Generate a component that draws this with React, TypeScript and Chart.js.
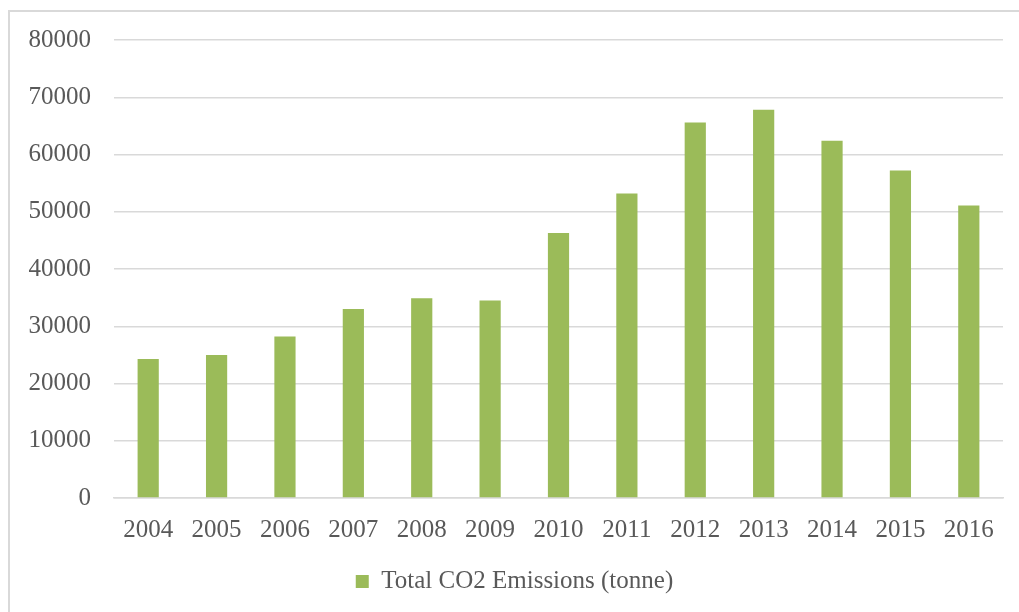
import React, { useEffect, useRef } from "react";
import { Chart, registerables } from "chart.js";

Chart.register(...registerables);

const years = ["2004", "2005", "2006", "2007", "2008", "2009", "2010", "2011", "2012", "2013", "2014", "2015", "2016"];
const emissions = [24300, 25000, 28200, 33000, 34900, 34500, 46300, 53200, 65600, 67800, 62400, 57200, 51100];
const seriesLabel = "Total CO2 Emissions (tonne)";
const yMin = 0;
const yMax = 80000;
const yStep = 10000;

export default function App() {
  const ref = useRef<HTMLCanvasElement | null>(null);
  useEffect(() => {
    if (!ref.current) return;
    const font = { family: "'Liberation Serif', serif", size: 25 };
    const chart = new Chart(ref.current, {
      type: "bar",
      data: {
        labels: years,
        datasets: [
          {
            label: seriesLabel,
            data: emissions,
            backgroundColor: "#9BBB59",
            borderWidth: 0,
            barPercentage: 0.31,
            categoryPercentage: 1,
          },
        ],
      },
      options: {
        animation: false,
        responsive: false,
        maintainAspectRatio: false,
        layout: { padding: { left: 16, right: 16, top: 28, bottom: 8 } },
        plugins: {
          tooltip: { enabled: false },
          legend: {
            position: "bottom",
            labels: {
              color: "#595959",
              font,
              boxWidth: 13,
              boxHeight: 13,
              padding: 7,
            },
          },
        },
        scales: {
          x: {
            grid: { display: false, drawTicks: false },
            border: { display: true, color: "#d9d9d9", width: 1.5 },
            ticks: { color: "#595959", font, padding: 17, maxRotation: 0 },
          },
          y: {
            min: yMin,
            max: yMax,
            grid: { color: "#d9d9d9", lineWidth: 1.5, drawTicks: false },
            border: { display: false },
            ticks: {
              color: "#595959",
              font,
              padding: 23,
              stepSize: yStep,
              callback: (v: any) => String(v),
            },
            afterFit: (scale: any) => {
              scale.width = 88;
              scale.paddingTop = 0;
              scale.paddingBottom = 0;
            },
          },
        },
      },
    });
    return () => chart.destroy();
  }, []);
  return (
    <div
      style={{
        position: "absolute",
        left: 8,
        top: 10,
        width: 1011,
        height: 602,
        borderLeft: "2px solid #d9d9d9",
        borderTop: "2px solid #d9d9d9",
        boxSizing: "border-box",
        background: "#fff",
      }}
    >
      <canvas ref={ref} width={1009} height={600} style={{ display: "block" }} />
    </div>
  );
}
